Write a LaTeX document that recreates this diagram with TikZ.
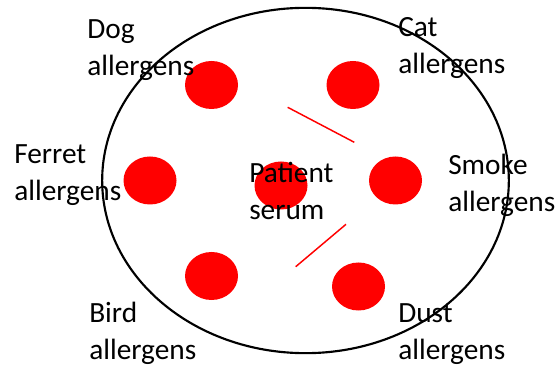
\documentclass[tikz,border=0pt]{standalone}
\usepackage{fontspec}
\setmainfont{Carlito}
\usetikzlibrary{positioning,shapes.geometric}
\definecolor{dotred}{RGB}{255,0,0}

\begin{document}
\begin{tikzpicture}[x=0.75pt,y=-0.75pt,
  dot/.style={ellipse,fill=dotred,inner sep=0pt,minimum width=39.75pt,minimum height=36pt},
  lbl/.style={anchor=base west,align=left,inner sep=0pt,font=\fontsize{22}{27.75}\selectfont},
  link/.style={dotred,line width=1.1pt}]
  \useasboundingbox (0,0) rectangle (556,366);
  % plate and wells
  \node[ellipse,draw,line width=1.6pt,minimum width=305pt,minimum height=259pt,inner sep=0pt](plate) at (305.5,180.5){};
  \node[dot](dog) at (211.5,85){};
  \node[dot](cat) at (353,85){};
  \node[dot](ferret) at (150,180.5){};
  \node[dot](serum) at (281,185.5){};
  \node[dot](smoke) at (395.5,180.5){};
  \node[dot](bird) at (211.5,276){};
  \node[dot](dust) at (358.5,286.5){};
  % precipitation lines
  \coordinate(p1) at (287.7,107.3); \coordinate(p2) at (354.3,142.3);
  \coordinate(q1) at (346,224.3); \coordinate(q2) at (295.7,266.7);
  \draw[link](p1)--(p2);
  \draw[link](q1)--(q2);
  % labels (anchored on the baseline of the second line)
  \node[lbl](tdog) at (87,76){Dog\\allergens};
  \node[lbl](tcat) at (398,74){Cat\\allergens};
  \node[lbl](tferret) at (14,200.7){Ferret\\allergens};
  \node[lbl](tserum) at (249,219.3){Patient\\serum};
  \node[lbl](tsmoke) at (448,211.7){Smoke\\allergens};
  \node[lbl](tbird) at (89,359.3){Bird\\allergens};
  \node[lbl](tdust) at (398,359.3){Dust\\allergens};
\end{tikzpicture}
\end{document}
